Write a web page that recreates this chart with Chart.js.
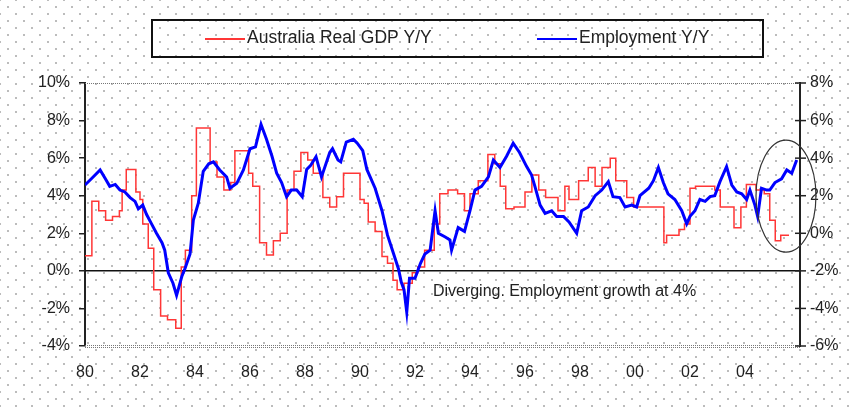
<!DOCTYPE html>
<html>
<head>
<meta charset="utf-8">
<script src="https://cdn.jsdelivr.net/npm/chart.js@4.4.1/dist/chart.umd.min.js"></script>
<style>
  html, body { margin: 0; padding: 0; }
  body {
    width: 854px; height: 408px; overflow: hidden;
    background-color: #fff;
    background-image:
      radial-gradient(circle, #bcbcbc 0.9px, transparent 1.3px),
      radial-gradient(circle, #bcbcbc 0.9px, transparent 1.3px);
    background-size: 16px 14px;
    background-position: 0 0, 8px 7px;
  }
  canvas { display: block; }
</style>
</head>
<body>
<canvas id="gdpChart" width="854" height="408"></canvas>
<script>
// Australia real GDP Y/Y (left axis, %), quarterly steps
const gdpYears = [1980.0,1980.25,1980.5,1980.75,1981.0,1981.25,1981.35,1981.5,1981.85,1982.0,1982.1,1982.3,1982.5,1982.75,1983.0,1983.3,1983.5,1983.65,1983.88,1984.05,1984.55,1984.8,1985.05,1985.3,1985.45,1985.95,1986.1,1986.35,1986.6,1986.85,1987.1,1987.35,1987.6,1987.85,1988.1,1988.3,1988.65,1988.9,1989.15,1989.4,1990.0,1990.15,1990.3,1990.55,1990.8,1991.0,1991.2,1991.35,1991.6,1991.9,1992.1,1992.35,1992.7,1992.9,1993.2,1993.55,1993.8,1994.0,1994.3,1994.65,1994.9,1995.1,1995.3,1995.6,1996.0,1996.25,1996.5,1996.75,1997.2,1997.45,1997.6,1997.95,1998.3,1998.55,1998.8,1999.1,1999.3,1999.7,1999.95,2001.05,2001.15,2001.6,2001.8,2002.0,2002.2,2002.9,2003.1,2003.6,2003.85,2004.05,2004.4,2004.7,2004.9,2005.1,2005.3,2005.6];
const gdpValues = [0.8,3.7,3.2,2.7,2.9,3.2,4.3,5.4,4.2,3.8,2.5,1.2,-1.0,-2.4,-2.6,-3.05,0.2,1.1,4.0,7.6,5.8,5.0,4.3,4.7,6.4,5.2,4.5,1.5,0.85,1.6,2.0,4.3,5.3,6.3,5.9,5.2,3.9,3.4,3.95,5.2,3.8,3.6,2.6,2.1,0.76,0.4,-0.5,-1.0,-0.66,-0.1,0.2,1.1,2.5,4.1,4.3,4.1,3.2,4.1,4.8,6.2,5.7,4.5,3.3,3.4,4.2,5.1,4.3,3.9,3.2,4.5,3.8,4.8,5.5,4.5,5.5,6.0,4.8,3.9,3.4,1.5,1.9,2.2,2.5,4.4,4.5,4.3,3.4,2.3,3.4,4.6,4.3,4.1,2.7,1.6,1.9,1.9];

// Employment Y/Y (right axis, %)
const empYears = [1980.0,1980.25,1980.55,1980.73,1980.9,1981.1,1981.27,1981.45,1981.64,1981.82,1981.94,1982.1,1982.24,1982.42,1982.6,1982.8,1982.9,1983.03,1983.2,1983.33,1983.52,1983.64,1983.82,1983.94,1984.12,1984.3,1984.5,1984.67,1984.9,1985.15,1985.27,1985.52,1985.76,1986.0,1986.2,1986.4,1986.6,1986.8,1986.97,1987.15,1987.33,1987.5,1987.7,1987.9,1988.06,1988.2,1988.4,1988.6,1988.9,1989.0,1989.2,1989.3,1989.5,1989.76,1989.9,1990.0,1990.1,1990.25,1990.55,1990.8,1991.0,1991.2,1991.4,1991.5,1991.6,1991.7,1991.8,1992.0,1992.2,1992.36,1992.55,1992.73,1992.85,1993.1,1993.27,1993.33,1993.57,1993.8,1994.0,1994.18,1994.42,1994.67,1994.85,1995.09,1995.33,1995.57,1995.8,1996.06,1996.24,1996.36,1996.55,1996.73,1996.97,1997.15,1997.4,1997.6,1997.88,1998.06,1998.3,1998.55,1998.79,1999.03,1999.2,1999.45,1999.64,1999.88,2000.06,2000.18,2000.5,2000.67,2000.85,2001.03,2001.2,2001.45,2001.7,2001.88,2002.0,2002.18,2002.36,2002.55,2002.73,2002.9,2003.09,2003.33,2003.52,2003.7,2003.88,2004.06,2004.18,2004.36,2004.46,2004.6,2004.79,2004.9,2005.09,2005.33,2005.52,2005.7,2005.88];
const empValues = [2.57,2.93,3.37,2.93,2.5,2.6,2.3,2.2,1.9,1.7,1.3,1.5,1.0,0.5,0.0,-0.5,-0.9,-2.1,-2.66,-3.3,-2.3,-1.86,-1.1,0.7,1.6,3.3,3.7,3.8,3.37,3.0,2.4,2.66,3.37,4.5,4.6,5.8,5.0,4.1,3.2,2.7,1.95,2.3,2.3,1.95,3.4,3.6,4.08,3.0,4.3,4.5,3.9,3.8,4.85,5.0,4.8,4.6,4.4,3.4,2.4,1.2,-0.1,-1.0,-1.9,-2.6,-3.0,-4.2,-2.4,-2.4,-1.6,-1.1,-0.9,1.2,0.0,-0.2,-0.35,-0.9,0.3,0.1,1.2,2.3,2.5,3.0,3.9,3.5,4.1,4.8,4.3,3.55,3.1,2.5,1.5,1.06,1.2,0.9,0.9,0.6,0.0,1.2,1.4,2.0,2.3,2.75,1.95,1.9,1.4,1.5,1.4,2.0,2.4,2.8,3.5,2.7,2.1,1.8,1.2,0.5,0.9,1.2,1.8,1.7,1.95,2.0,2.75,3.55,2.57,2.2,2.1,1.8,2.3,1.5,0.9,2.4,2.3,2.3,2.7,2.9,3.37,3.2,3.9];

const yearLabels = ['80','82','84','86','88','90','92','94','96','98','00','02','04'];
const seriesNames = ['Australia Real GDP Y/Y', 'Employment Y/Y'];
const seriesColors = ['#ff3636', '#0000ff'];
const noteText = 'Diverging. Employment growth at 4%';

const FONT = '"Liberation Sans", Arial, sans-serif';
const INK = '#222';

const extras = {
  id: 'extras',
  beforeDatasetsDraw(chart) {
    const { ctx, chartArea: a, scales } = chart;
    const y0 = scales.y.getPixelForValue(0);
    ctx.save();
    // zero line
    ctx.strokeStyle = '#111';
    ctx.lineWidth = 1.5;
    ctx.beginPath();
    ctx.moveTo(a.left, y0);
    ctx.lineTo(a.right, y0);
    ctx.stroke();
    // dotted top and bottom border
    ctx.strokeStyle = '#777';
    ctx.lineWidth = 1;
    ctx.setLineDash([1, 1]);
    ctx.beginPath();
    ctx.moveTo(a.left, a.top + 0.5);
    ctx.lineTo(a.right, a.top + 0.5);
    ctx.moveTo(a.left, a.bottom - 0.5);
    ctx.lineTo(a.right, a.bottom - 0.5);
    ctx.moveTo(a.left, a.bottom + 1.5);
    ctx.lineTo(a.right, a.bottom + 1.5);
    ctx.stroke();
    ctx.restore();
  },
  afterDraw(chart) {
    const { ctx, chartArea: a, scales } = chart;
    ctx.save();
    // right axis ticks crossing the axis
    ctx.strokeStyle = '#222';
    ctx.lineWidth = 1.5;
    scales.y1.ticks.forEach(t => {
      const py = scales.y1.getPixelForValue(t.value);
      ctx.beginPath();
      ctx.moveTo(a.right - 5, py);
      ctx.lineTo(a.right + 6, py);
      ctx.stroke();
    });

    // legend box
    ctx.strokeStyle = '#111';
    ctx.lineWidth = 2;
    ctx.strokeRect(152, 20, 611, 37);
    const items = [[205, 0], [537, 1]];
    ctx.font = '17.5px ' + FONT;
    ctx.textBaseline = 'middle';
    ctx.fillStyle = INK;
    items.forEach(([lx, i]) => {
      ctx.strokeStyle = seriesColors[i];
      ctx.lineWidth = 2;
      ctx.beginPath();
      ctx.moveTo(lx, 39);
      ctx.lineTo(lx + 40, 39);
      ctx.stroke();
      ctx.fillText(chart.data.datasets[i].label, lx + 42, 38);
    });

    // annotation text
    ctx.font = '16px ' + FONT;
    ctx.textAlign = 'left';
    ctx.fillText(noteText, scales.x.getPixelForValue(1992.65), scales.y.getPixelForValue(-1.1));

    // ellipse around the latest divergence
    const cx = scales.x.getPixelForValue(2005.49);
    const cy = scales.y.getPixelForValue(3.98);
    const rx = scales.x.getPixelForValue(2005.49 + 1.09) - cx;
    const ry = scales.y.getPixelForValue(3.98 - 2.98) - cy;
    ctx.strokeStyle = '#333';
    ctx.lineWidth = 1.2;
    ctx.beginPath();
    ctx.ellipse(cx, cy, rx, ry, 0, 0, Math.PI * 2);
    ctx.stroke();
    ctx.restore();
  }
};

new Chart(document.getElementById('gdpChart'), {
  type: 'line',
  data: {
    datasets: [
      {
        label: seriesNames[0],
        data: gdpYears.map((x, i) => ({ x: x, y: gdpValues[i] })),
        borderColor: seriesColors[0],
        borderWidth: 1.5,
        stepped: 'before',
        pointRadius: 0,
        yAxisID: 'y',
        order: 2
      },
      {
        label: seriesNames[1],
        data: empYears.map((x, i) => ({ x: x, y: empValues[i] })),
        borderColor: seriesColors[1],
        borderWidth: 3,
        tension: 0,
        pointRadius: 0,
        yAxisID: 'y1',
        order: 1
      }
    ]
  },
  options: {
    responsive: false,
    animation: false,
    layout: { padding: { top: 83, left: 0, right: 0, bottom: 0 } },
    plugins: { legend: { display: false }, tooltip: { enabled: false } },
    scales: {
      x: {
        type: 'linear',
        min: 1980,
        max: 2006,
        afterFit: s => { s.height = 62; },
        afterBuildTicks: s => { s.ticks = yearLabels.map((_, i) => ({ value: 1980 + i * 2 })); },
        ticks: {
          autoSkip: false,
          maxRotation: 0,
          padding: 17,
          color: INK,
          font: { family: FONT, size: 16 },
          callback: v => yearLabels[(v - 1980) / 2] ?? ''
        },
        grid: { drawOnChartArea: false, drawTicks: false },
        border: { display: false }
      },
      y: {
        position: 'left',
        min: -4,
        max: 10,
        afterFit: s => { s.width = 85; },
        ticks: {
          stepSize: 2,
          padding: 9,
          color: INK,
          font: { family: FONT, size: 16 },
          callback: v => v + '%'
        },
        grid: { drawOnChartArea: false, tickLength: 6, color: '#222', lineWidth: 1.5 },
        border: { display: true, color: '#222', width: 2 }
      },
      y1: {
        position: 'right',
        min: -6,
        max: 8,
        afterFit: s => { s.width = 54; },
        ticks: {
          stepSize: 2,
          padding: 4,
          color: INK,
          font: { family: FONT, size: 16 },
          callback: v => v + '%'
        },
        grid: { drawOnChartArea: false, drawTicks: true, tickLength: 6, color: 'rgba(0,0,0,0)' },
        border: { display: true, color: '#222', width: 2 }
      }
    }
  },
  plugins: [extras]
});
</script>
</body>
</html>
